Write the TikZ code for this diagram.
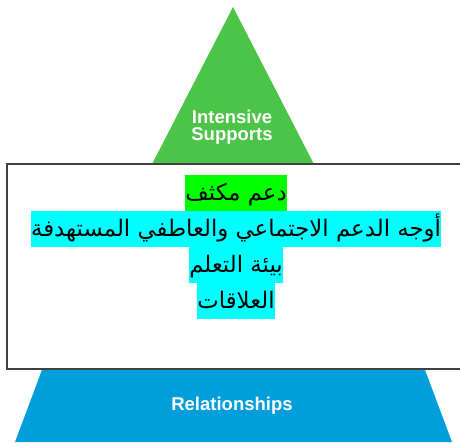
\documentclass[tikz,border=0pt]{standalone}
\usepackage{fontspec}
\TeXXeTstate=1
\newfontfamily\arabicfont[Script=Arabic]{DejaVu Sans}
\newfontfamily\labelfont{Liberation Sans}
\definecolor{pyrgreen}{RGB}{76,196,72}
\definecolor{pyrblue}{RGB}{0,158,219}
\definecolor{hlgreen}{RGB}{0,255,0}
\definecolor{hlcyan}{RGB}{0,255,255}
\definecolor{boxedge}{RGB}{64,64,64}
\tikzset{
  layerlabel/.style={text=white, font=\labelfont\bfseries\fontsize{18.5}{16.6}\selectfont, inner sep=0pt, align=center},
  arline/.style={font=\arabicfont\fontsize{22.8}{26}\selectfont, inner xsep=0pt, inner ysep=0pt, text height=25pt, text depth=11pt, anchor=north},
}
\begin{document}
\begin{tikzpicture}[x=1pt,y=-1pt]
\useasboundingbox (0,0) rectangle (460,442);
\clip (0,0) rectangle (460,442);
% green top layer
\fill[pyrgreen] (233,7) -- (131,205) -- (335,205) -- cycle;
% blue bottom layer
\fill[pyrblue] (45.7,360) -- (421.3,360) -- (452,442) -- (15,442) -- cycle;
\node[layerlabel, anchor=north] (int) at (232,110) {Intensive\\Supports};
\node[layerlabel, anchor=base] (rel) at (232,410) {Relationships};
% white box
\draw[boxedge, line width=1.2pt, fill=white] (7,164) rectangle (470,369);
\node[arline, fill=hlgreen] (l1) at (236,175) {\beginR دعم مكثف\endR};
\node[arline, fill=hlcyan] (l2) at (236,211) {\beginR أوجه الدعم الاجتماعي والعاطفي المستهدفة\endR};
\node[arline, fill=hlcyan] (l3) at (236,247) {\beginR بيئة التعلم\endR};
\node[arline, fill=hlcyan] (l4) at (236,283) {\beginR العلاقات\endR};
\end{tikzpicture}
\end{document}
